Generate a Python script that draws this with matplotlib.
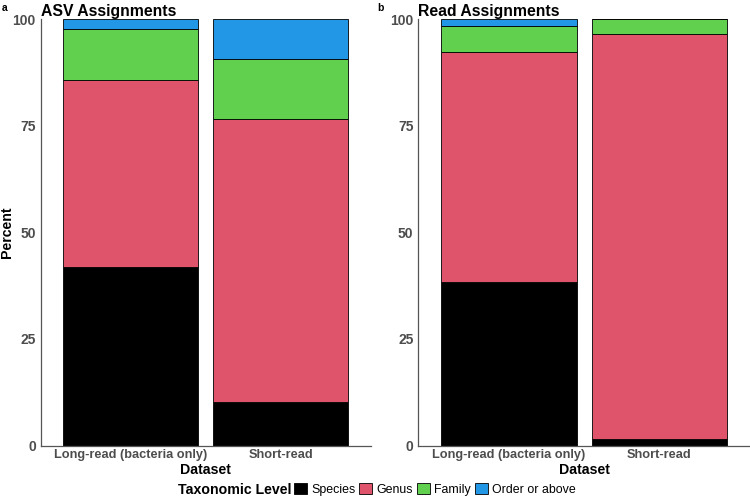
import matplotlib.pyplot as plt
from matplotlib.patches import Patch

plt.rcParams['font.family'] = ['Liberation Sans', 'DejaVu Sans']

# data (percent of each dataset)
datasets = ['Long-read (bacteria only)', 'Short-read']
levels = ['Species', 'Genus', 'Family', 'Order or above']
colors = ['#000000', '#DF536B', '#61D04F', '#2297E6']

asv_species = [41.9, 10.2]
asv_genus = [43.8, 66.3]
asv_family = [12.0, 14.2]
asv_order = [2.3, 9.3]

read_species = [38.4, 1.6]
read_genus = [53.8, 94.8]
read_family = [6.1, 3.6]
read_order = [1.7, 0.0]

fig = plt.figure(figsize=(7.5, 4.98), dpi=100)
ax1 = fig.add_axes([0.0543, 0.1054, 0.44, 0.8564])
ax2 = fig.add_axes([0.5577, 0.1054, 0.4423, 0.8564])

panels = [
    (ax1, 'ASV Assignments', 'a', [asv_species, asv_genus, asv_family, asv_order]),
    (ax2, 'Read Assignments', 'b', [read_species, read_genus, read_family, read_order]),
]

x = [1, 2]
for ax, title, tag, series in panels:
    bottom = [0, 0]
    for vals, col in zip(series, colors):
        ax.bar(x, vals, width=0.9, bottom=bottom, color=col,
               edgecolor='black', linewidth=0.6)
        bottom = [b + v for b, v in zip(bottom, vals)]
    ax.set_xlim(0.4, 2.6)
    ax.set_ylim(0, 100)
    ax.set_yticks([0, 25, 50, 75, 100])
    ax.set_xticks(x)
    ax.set_xticklabels(datasets)
    ax.tick_params(length=0, labelsize=9.2, labelcolor='#4d4d4d')
    ax.tick_params(axis='y', labelsize=10, pad=3.5)
    ax.tick_params(axis='x', pad=2.5)
    for lab in ax.get_xticklabels() + ax.get_yticklabels():
        lab.set_fontweight('bold')
    for s in ['top', 'right']:
        ax.spines[s].set_visible(False)
    for s in ['left', 'bottom']:
        ax.spines[s].set_color('#555555')
        ax.spines[s].set_linewidth(0.9)
    ax.set_xlabel('Dataset', fontsize=10.2, fontweight='bold', labelpad=1.5)
    ax.set_title(title, fontsize=11.3, fontweight='bold', loc='left', pad=2, x=0.0)
    pos = ax.get_position()
    fig.text(pos.x0 - 0.052 if tag == 'a' else pos.x0 - 0.055, 0.984, tag,
             fontsize=7.5, fontweight='bold', va='center')

ax1.set_ylabel('Percent', fontsize=10.2, fontweight='bold', va='center')
ax1.yaxis.set_label_coords(-0.103, 0.5)

handles = [Patch(facecolor=c, edgecolor='black', linewidth=0.6) for c in colors]
fig.text(0.388, 0.016, 'Taxonomic Level', fontsize=10.2, fontweight='bold',
         ha='right', va='center')
fig.legend(handles, levels, loc='center left', bbox_to_anchor=(0.392, 0.018),
           ncol=4, frameon=False, fontsize=8.9, handlelength=1.05, handleheight=1.05,
           handletextpad=0.35, columnspacing=0.3, borderpad=0, borderaxespad=0)

fig.savefig('out.png', dpi=100)
